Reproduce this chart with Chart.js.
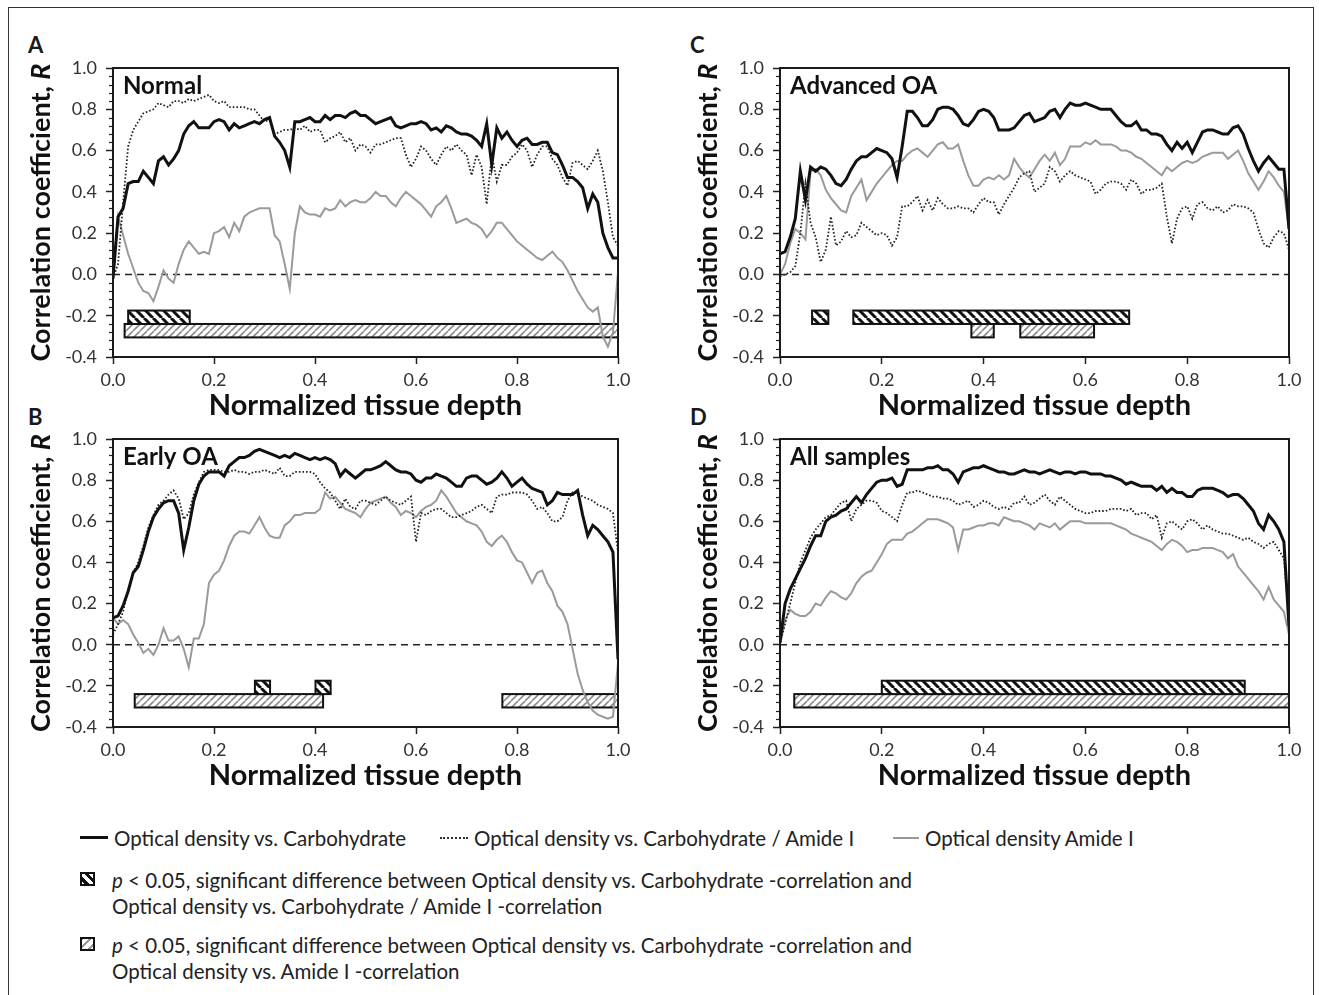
<!DOCTYPE html>
<html lang="en">
<head>
<meta charset="UTF-8">
<title>Correlation coefficient vs. normalized tissue depth</title>
<script src="https://cdn.jsdelivr.net/npm/chart.js"></script>
<style>
  html, body { margin: 0; padding: 0; background: #fff; }
  body { width: 1319px; height: 995px; position: relative; overflow: hidden; font-family: Lato, sans-serif; color: #1a1a1a; }
  .frame { position: absolute; left: 8px; top: 7px; width: 1306px; height: 1000px; border: 1.5px solid #333; border-bottom: none; box-sizing: border-box; }
  canvas { position: absolute; }
  .letter { position: absolute; font-weight: bold; font-size: 22px; line-height: 24px; }
  .lg { position: absolute; font-size: 20.5px; line-height: 24px; white-space: nowrap; color: #222; }
  .sw { position: absolute; }
  .hatch-black { border: 2px solid #111; box-sizing: border-box;
    background: repeating-linear-gradient(45deg, #fff 0 2px, #111 2px 5px, #fff 5px 7px); }
  .hatch-gray { border: 2px solid #111; box-sizing: border-box;
    background: repeating-linear-gradient(-45deg, #fff 0 2px, #999 2px 4px, #fff 4px 6px); }
</style>
</head>
<body>
<div class="frame"></div>

<div class="letter" style="left:28px;top:33px">A</div>
<div class="letter" style="left:28px;top:405px">B</div>
<div class="letter" style="left:690px;top:33px">C</div>
<div class="letter" style="left:690px;top:405px">D</div>

<canvas id="panelA" width="660" height="400" style="left:0;top:30px"></canvas>
<canvas id="panelB" width="660" height="400" style="left:0;top:400px"></canvas>
<canvas id="panelC" width="659" height="400" style="left:660px;top:30px"></canvas>
<canvas id="panelD" width="659" height="400" style="left:660px;top:400px"></canvas>

<!-- legend -->
<div class="sw" style="left:80px;top:836px;width:28px;height:3px;background:#111"></div>
<div class="lg" style="left:114px;top:826px">Optical density vs. Carbohydrate</div>
<div class="sw" style="left:440px;top:837px;width:28px;height:0;border-top:2px dotted #333"></div>
<div class="lg" style="left:474px;top:826px">Optical density vs. Carbohydrate / Amide I</div>
<div class="sw" style="left:893px;top:837px;width:26px;height:2px;background:#999"></div>
<div class="lg" style="left:925px;top:826px">Optical density Amide I</div>

<div class="sw hatch-black" style="left:80px;top:872px;width:15px;height:14px"></div>
<div class="lg" style="left:112px;top:868px"><i>p</i> &lt; 0.05, significant difference between Optical density vs. Carbohydrate -correlation and</div>
<div class="lg" style="left:112px;top:894px">Optical density vs. Carbohydrate / Amide I -correlation</div>

<div class="sw hatch-gray" style="left:80px;top:937px;width:15px;height:14px"></div>
<div class="lg" style="left:112px;top:933px"><i>p</i> &lt; 0.05, significant difference between Optical density vs. Carbohydrate -correlation and</div>
<div class="lg" style="left:112px;top:959px">Optical density vs. Amide I -correlation</div>

<script>
// normalized tissue depth (x)
const depth = [
  0.00, 0.01, 0.02, 0.03, 0.04, 0.05, 0.06, 0.07, 0.08, 0.09,
  0.10, 0.11, 0.12, 0.13, 0.14, 0.15, 0.16, 0.17, 0.18, 0.19,
  0.20, 0.21, 0.22, 0.23, 0.24, 0.25, 0.26, 0.27, 0.28, 0.29,
  0.30, 0.31, 0.32, 0.33, 0.34, 0.35, 0.36, 0.37, 0.38, 0.39,
  0.40, 0.41, 0.42, 0.43, 0.44, 0.45, 0.46, 0.47, 0.48, 0.49,
  0.50, 0.51, 0.52, 0.53, 0.54, 0.55, 0.56, 0.57, 0.58, 0.59,
  0.60, 0.61, 0.62, 0.63, 0.64, 0.65, 0.66, 0.67, 0.68, 0.69,
  0.70, 0.71, 0.72, 0.73, 0.74, 0.75, 0.76, 0.77, 0.78, 0.79,
  0.80, 0.81, 0.82, 0.83, 0.84, 0.85, 0.86, 0.87, 0.88, 0.89,
  0.90, 0.91, 0.92, 0.93, 0.94, 0.95, 0.96, 0.97, 0.98, 0.99,
  1.00
];

const yTickValues = [-0.4, -0.2, 0.0, 0.2, 0.4, 0.6, 0.8, 1.0];
const xTickValues = [0.0, 0.2, 0.4, 0.6, 0.8, 1.0];

const seriesNames = [
  'Optical density vs. Carbohydrate',
  'Optical density vs. Carbohydrate / Amide I',
  'Optical density Amide I'
];

// A - Normal
const normalCarb = [
  -0.02, 0.28, 0.32, 0.44, 0.45, 0.45, 0.50, 0.47, 0.44, 0.55,
  0.57, 0.53, 0.56, 0.60, 0.68, 0.72, 0.74, 0.71, 0.71, 0.71,
  0.74, 0.75, 0.74, 0.70, 0.73, 0.71, 0.72, 0.73, 0.74, 0.73,
  0.75, 0.76, 0.67, 0.64, 0.60, 0.52, 0.74, 0.74, 0.75, 0.76,
  0.74, 0.74, 0.77, 0.75, 0.77, 0.77, 0.76, 0.78, 0.79, 0.77,
  0.77, 0.75, 0.73, 0.74, 0.75, 0.76, 0.72, 0.71, 0.72, 0.73,
  0.73, 0.74, 0.73, 0.70, 0.71, 0.69, 0.72, 0.71, 0.69, 0.68,
  0.68, 0.67, 0.65, 0.62, 0.73, 0.53, 0.71, 0.66, 0.69, 0.65,
  0.62, 0.65, 0.66, 0.63, 0.63, 0.64, 0.64, 0.59, 0.58, 0.53,
  0.47, 0.47, 0.45, 0.42, 0.32, 0.39, 0.35, 0.20, 0.13, 0.08,
  0.08
];
const normalRatio = [
  -0.02, 0.05, 0.35, 0.62, 0.70, 0.74, 0.78, 0.79, 0.80, 0.83,
  0.82, 0.81, 0.84, 0.84, 0.83, 0.85, 0.84, 0.85, 0.86, 0.87,
  0.84, 0.83, 0.84, 0.81, 0.81, 0.81, 0.81, 0.80, 0.80, 0.77,
  0.74, 0.75, 0.68, 0.69, 0.70, 0.70, 0.71, 0.70, 0.72, 0.69,
  0.70, 0.70, 0.64, 0.66, 0.67, 0.69, 0.64, 0.66, 0.60, 0.63,
  0.62, 0.59, 0.63, 0.63, 0.64, 0.65, 0.66, 0.66, 0.58, 0.52,
  0.56, 0.62, 0.60, 0.56, 0.53, 0.58, 0.62, 0.60, 0.63, 0.60,
  0.58, 0.48, 0.58, 0.52, 0.34, 0.58, 0.45, 0.53, 0.53, 0.57,
  0.59, 0.63, 0.60, 0.52, 0.58, 0.62, 0.62, 0.56, 0.53, 0.47,
  0.43, 0.54, 0.55, 0.53, 0.51, 0.55, 0.60, 0.50, 0.35, 0.18,
  0.14
];
const normalAmide = [
  0.00, 0.28, 0.19, 0.10, 0.03, -0.04, -0.08, -0.09, -0.13, -0.06,
  0.02, -0.02, -0.04, 0.05, 0.12, 0.16, 0.13, 0.10, 0.11, 0.10,
  0.20, 0.21, 0.23, 0.18, 0.25, 0.21, 0.28, 0.30, 0.31, 0.32,
  0.32, 0.32, 0.19, 0.16, 0.05, -0.07, 0.20, 0.33, 0.30, 0.29,
  0.29, 0.28, 0.32, 0.31, 0.32, 0.36, 0.33, 0.35, 0.36, 0.35,
  0.35, 0.37, 0.40, 0.38, 0.38, 0.35, 0.33, 0.37, 0.40, 0.38,
  0.36, 0.34, 0.31, 0.28, 0.33, 0.35, 0.38, 0.32, 0.25, 0.26,
  0.27, 0.25, 0.24, 0.22, 0.18, 0.21, 0.25, 0.25, 0.22, 0.19,
  0.16, 0.14, 0.12, 0.10, 0.08, 0.07, 0.09, 0.11, 0.08, 0.06,
  0.02, -0.03, -0.08, -0.12, -0.16, -0.18, -0.16, -0.30, -0.35, -0.28,
  0.01
];

// B - Early OA
const earlyCarb = [
  0.13, 0.14, 0.19, 0.26, 0.35, 0.38, 0.46, 0.55, 0.62, 0.66,
  0.69, 0.70, 0.70, 0.64, 0.46, 0.57, 0.70, 0.78, 0.82, 0.84,
  0.84, 0.84, 0.82, 0.87, 0.89, 0.91, 0.91, 0.92, 0.94, 0.95,
  0.94, 0.93, 0.92, 0.91, 0.92, 0.91, 0.93, 0.92, 0.91, 0.90,
  0.91, 0.90, 0.91, 0.90, 0.88, 0.82, 0.85, 0.83, 0.81, 0.83,
  0.85, 0.85, 0.86, 0.87, 0.89, 0.87, 0.85, 0.84, 0.84, 0.83,
  0.80, 0.79, 0.81, 0.81, 0.83, 0.82, 0.81, 0.79, 0.77, 0.77,
  0.81, 0.82, 0.82, 0.80, 0.78, 0.79, 0.81, 0.84, 0.81, 0.77,
  0.79, 0.81, 0.78, 0.76, 0.75, 0.74, 0.68, 0.70, 0.74, 0.73,
  0.73, 0.73, 0.75, 0.63, 0.53, 0.58, 0.56, 0.53, 0.50, 0.45,
  -0.07
];
const earlyRatio = [
  0.05, 0.10, 0.16, 0.27, 0.35, 0.40, 0.48, 0.57, 0.63, 0.68,
  0.70, 0.73, 0.75, 0.71, 0.61, 0.64, 0.73, 0.79, 0.84, 0.85,
  0.85, 0.85, 0.84, 0.84, 0.85, 0.84, 0.84, 0.83, 0.84, 0.84,
  0.85, 0.84, 0.83, 0.86, 0.82, 0.82, 0.84, 0.84, 0.84, 0.84,
  0.83, 0.79, 0.76, 0.74, 0.70, 0.66, 0.71, 0.67, 0.66, 0.70,
  0.70, 0.69, 0.68, 0.70, 0.72, 0.70, 0.69, 0.68, 0.70, 0.72,
  0.50, 0.64, 0.63, 0.65, 0.66, 0.66, 0.64, 0.62, 0.62, 0.63,
  0.64, 0.65, 0.67, 0.68, 0.66, 0.64, 0.72, 0.73, 0.73, 0.74,
  0.74, 0.74, 0.73, 0.70, 0.66, 0.67, 0.64, 0.60, 0.60, 0.62,
  0.70, 0.74, 0.74, 0.72, 0.71, 0.70, 0.68, 0.67, 0.66, 0.64,
  0.45
];
const earlyAmide = [
  0.13, 0.10, 0.12, 0.10, 0.05, 0.01, -0.04, -0.02, -0.05, 0.00,
  0.08, 0.02, 0.02, 0.04, -0.02, -0.11, 0.03, 0.03, 0.10, 0.30,
  0.34, 0.36, 0.41, 0.48, 0.53, 0.55, 0.55, 0.54, 0.58, 0.62,
  0.57, 0.53, 0.52, 0.52, 0.58, 0.60, 0.63, 0.63, 0.64, 0.64,
  0.64, 0.66, 0.74, 0.71, 0.72, 0.69, 0.66, 0.65, 0.64, 0.62,
  0.66, 0.69, 0.70, 0.71, 0.72, 0.69, 0.67, 0.63, 0.65, 0.64,
  0.62, 0.65, 0.67, 0.68, 0.70, 0.75, 0.72, 0.68, 0.64, 0.62,
  0.60, 0.59, 0.58, 0.55, 0.50, 0.48, 0.51, 0.53, 0.50, 0.45,
  0.41, 0.40, 0.35, 0.30, 0.35, 0.36, 0.30, 0.26, 0.19, 0.16,
  0.10, -0.02, -0.14, -0.22, -0.28, -0.32, -0.34, -0.35, -0.36, -0.35,
  -0.09
];

// C - Advanced OA
const advancedCarb = [
  0.10, 0.11, 0.18, 0.27, 0.50, 0.36, 0.52, 0.50, 0.52, 0.51,
  0.48, 0.44, 0.43, 0.46, 0.51, 0.55, 0.57, 0.57, 0.59, 0.61,
  0.60, 0.59, 0.56, 0.47, 0.62, 0.79, 0.79, 0.76, 0.72, 0.72,
  0.75, 0.80, 0.81, 0.81, 0.80, 0.77, 0.73, 0.72, 0.75, 0.79,
  0.80, 0.79, 0.76, 0.70, 0.70, 0.70, 0.71, 0.74, 0.77, 0.78,
  0.74, 0.75, 0.76, 0.79, 0.80, 0.76, 0.80, 0.83, 0.82, 0.82,
  0.83, 0.82, 0.81, 0.80, 0.80, 0.80, 0.77, 0.74, 0.72, 0.72,
  0.74, 0.70, 0.70, 0.68, 0.68, 0.67, 0.63, 0.60, 0.64, 0.61,
  0.64, 0.59, 0.64, 0.69, 0.70, 0.70, 0.69, 0.68, 0.68, 0.71,
  0.72, 0.68, 0.61, 0.55, 0.50, 0.54, 0.57, 0.54, 0.51, 0.51,
  0.22
];
const advancedRatio = [
  -0.01, 0.00, 0.01, 0.04, 0.20, 0.44, 0.25, 0.18, 0.06, 0.12,
  0.28, 0.14, 0.16, 0.21, 0.18, 0.19, 0.25, 0.23, 0.21, 0.19,
  0.20, 0.19, 0.14, 0.18, 0.33, 0.33, 0.35, 0.38, 0.31, 0.36,
  0.31, 0.37, 0.34, 0.32, 0.32, 0.33, 0.32, 0.32, 0.30, 0.34,
  0.37, 0.35, 0.35, 0.29, 0.34, 0.38, 0.42, 0.47, 0.49, 0.50,
  0.40, 0.42, 0.44, 0.52, 0.50, 0.45, 0.48, 0.50, 0.48, 0.47,
  0.46, 0.45, 0.39, 0.41, 0.44, 0.45, 0.45, 0.44, 0.41, 0.46,
  0.44, 0.39, 0.41, 0.41, 0.42, 0.44, 0.28, 0.15, 0.27, 0.32,
  0.33, 0.27, 0.34, 0.35, 0.32, 0.31, 0.33, 0.30, 0.31, 0.34,
  0.33, 0.33, 0.32, 0.30, 0.22, 0.15, 0.13, 0.18, 0.21, 0.20,
  0.12
];
const advancedAmide = [
  0.00, 0.05, 0.15, 0.22, 0.20, 0.17, 0.50, 0.51, 0.48, 0.41,
  0.37, 0.34, 0.31, 0.30, 0.38, 0.42, 0.46, 0.36, 0.40, 0.44,
  0.47, 0.50, 0.53, 0.55, 0.55, 0.58, 0.60, 0.61, 0.59, 0.57,
  0.60, 0.63, 0.64, 0.61, 0.61, 0.63, 0.55, 0.48, 0.43, 0.43,
  0.46, 0.47, 0.46, 0.48, 0.46, 0.48, 0.56, 0.52, 0.49, 0.47,
  0.51, 0.55, 0.58, 0.55, 0.59, 0.53, 0.56, 0.62, 0.62, 0.62,
  0.64, 0.63, 0.65, 0.63, 0.63, 0.63, 0.62, 0.60, 0.60, 0.59,
  0.57, 0.56, 0.54, 0.52, 0.50, 0.48, 0.52, 0.50, 0.52, 0.54,
  0.55, 0.54, 0.55, 0.57, 0.58, 0.59, 0.59, 0.59, 0.56, 0.58,
  0.60, 0.55, 0.49, 0.45, 0.41, 0.45, 0.50, 0.47, 0.43, 0.40,
  0.22
];

// D - All samples
const allCarb = [
  0.01, 0.20, 0.27, 0.32, 0.37, 0.42, 0.48, 0.53, 0.53, 0.60,
  0.62, 0.63, 0.65, 0.66, 0.69, 0.72, 0.69, 0.73, 0.76, 0.79,
  0.80, 0.80, 0.81, 0.77, 0.78, 0.85, 0.85, 0.85, 0.85, 0.86,
  0.86, 0.87, 0.85, 0.85, 0.83, 0.79, 0.84, 0.85, 0.86, 0.86,
  0.87, 0.86, 0.85, 0.84, 0.84, 0.83, 0.83, 0.84, 0.85, 0.84,
  0.84, 0.83, 0.84, 0.85, 0.84, 0.83, 0.84, 0.84, 0.83, 0.84,
  0.84, 0.83, 0.83, 0.83, 0.82, 0.82, 0.81, 0.80, 0.78, 0.79,
  0.78, 0.77, 0.77, 0.77, 0.75, 0.77, 0.74, 0.76, 0.74, 0.74,
  0.72, 0.72, 0.75, 0.76, 0.76, 0.76, 0.75, 0.74, 0.72, 0.73,
  0.73, 0.71, 0.68, 0.65, 0.59, 0.56, 0.63, 0.60, 0.56, 0.50,
  0.09
];
const allRatio = [
  0.01, 0.10, 0.20, 0.30, 0.40, 0.46, 0.52, 0.56, 0.59, 0.62,
  0.63, 0.66, 0.69, 0.70, 0.60, 0.66, 0.68, 0.70, 0.70, 0.69,
  0.65, 0.64, 0.62, 0.60, 0.68, 0.74, 0.74, 0.75, 0.74, 0.73,
  0.72, 0.72, 0.71, 0.71, 0.70, 0.68, 0.69, 0.70, 0.67, 0.68,
  0.70, 0.69, 0.67, 0.66, 0.67, 0.66, 0.69, 0.69, 0.72, 0.68,
  0.69, 0.71, 0.73, 0.70, 0.68, 0.72, 0.70, 0.68, 0.66, 0.65,
  0.64, 0.64, 0.65, 0.65, 0.65, 0.66, 0.66, 0.66, 0.65, 0.66,
  0.63, 0.64, 0.64, 0.61, 0.63, 0.52, 0.59, 0.60, 0.58, 0.56,
  0.60, 0.61, 0.59, 0.56, 0.58, 0.56, 0.55, 0.54, 0.54, 0.53,
  0.52, 0.51, 0.52, 0.50, 0.49, 0.47, 0.49, 0.50, 0.46, 0.42,
  0.12
];
const allAmide = [
  0.00, 0.12, 0.17, 0.15, 0.14, 0.14, 0.16, 0.20, 0.19, 0.23,
  0.26, 0.25, 0.23, 0.22, 0.25, 0.30, 0.33, 0.35, 0.36, 0.40,
  0.44, 0.49, 0.51, 0.51, 0.51, 0.54, 0.55, 0.57, 0.59, 0.61,
  0.61, 0.61, 0.60, 0.59, 0.57, 0.46, 0.56, 0.56, 0.57, 0.58,
  0.58, 0.59, 0.59, 0.58, 0.62, 0.61, 0.60, 0.60, 0.59, 0.58,
  0.56, 0.59, 0.58, 0.57, 0.59, 0.56, 0.58, 0.60, 0.60, 0.60,
  0.59, 0.59, 0.59, 0.59, 0.59, 0.59, 0.58, 0.57, 0.56, 0.54,
  0.53, 0.52, 0.51, 0.50, 0.48, 0.46, 0.49, 0.51, 0.50, 0.48,
  0.45, 0.46, 0.46, 0.47, 0.47, 0.47, 0.46, 0.45, 0.42, 0.44,
  0.38, 0.35, 0.32, 0.29, 0.26, 0.22, 0.28, 0.22, 0.19, 0.16,
  0.05
];

// significance ranges (depth from, depth to)
const normalSigRatio = [[0.03, 0.152]];
const normalSigAmide = [[0.023, 1.0]];
const earlySigRatio = [[0.281, 0.311], [0.401, 0.431]];
const earlySigAmide = [[0.043, 0.416], [0.771, 1.0]];
const advancedSigRatio = [[0.063, 0.095], [0.144, 0.686]];
const advancedSigAmide = [[0.376, 0.42], [0.472, 0.617]];
const allSigRatio = [[0.2, 0.913]];
const allSigAmide = [[0.028, 1.0]];

const FONT = 'Lato';

function makeHatch(color, lineWidth, size, dir) {
  const c = document.createElement('canvas');
  c.width = size; c.height = size;
  const g = c.getContext('2d');
  g.fillStyle = '#fff';
  g.fillRect(0, 0, size, size);
  g.strokeStyle = color;
  g.lineWidth = lineWidth;
  g.beginPath();
  for (let k = -1; k <= 1; k++) {
    if (dir === 'back') {
      g.moveTo(k * size, 0); g.lineTo(k * size + size, size);
    } else {
      g.moveTo(k * size, size); g.lineTo(k * size + size, 0);
    }
  }
  g.stroke();
  return c;
}

function fmt(v) {
  if (Math.abs(v) < 1e-9) return '0.0';
  return v.toFixed(1);
}

function makePanel(id, carb, ratio, amide, sigRatio, sigAmide, label, layout) {
  const ctx = document.getElementById(id);
  const pts = arr => arr.map((v, i) => ({ x: depth[i], y: v }));

  const sigBars = {
    id: 'sigBars',
    beforeDatasetsDraw(chart) {
      const c = chart.ctx;
      const { x, y } = chart.scales;
      const blackPat = c.createPattern(makeHatch('#111', 3, 9, 'back'), 'repeat');
      const grayPat = c.createPattern(makeHatch('#8c8c8c', 1.6, 7, 'fwd'), 'repeat');
      const draw = (ranges, top, bottom, pat) => {
        ranges.forEach(([a, b]) => {
          const x0 = x.getPixelForValue(a), x1 = x.getPixelForValue(b);
          const y0 = y.getPixelForValue(top), y1 = y.getPixelForValue(bottom);
          c.save();
          c.fillStyle = pat;
          c.fillRect(x0, y0, x1 - x0, y1 - y0);
          c.lineWidth = 2;
          c.strokeStyle = '#111';
          c.strokeRect(x0, y0, x1 - x0, y1 - y0);
          c.restore();
        });
      };
      draw(sigAmide, -0.24, -0.305, grayPat);
      draw(sigRatio, -0.175, -0.24, blackPat);
    }
  };

  const decor = {
    id: 'decor',
    afterDraw(chart) {
      const c = chart.ctx;
      const { left, right, top, bottom } = chart.chartArea;
      const y = chart.scales.y;
      c.save();
      // minor y ticks
      c.strokeStyle = '#222';
      c.lineWidth = 1.2;
      for (let k = 0; k <= 35; k++) {
        if (k % 5 === 0) continue;
        const py = Math.round(y.getPixelForValue(-0.4 + k * 0.04)) + 0.5;
        c.beginPath(); c.moveTo(left - 4, py); c.lineTo(left, py); c.stroke();
      }
      // plot frame
      c.lineWidth = 2;
      c.strokeStyle = '#1a1a1a';
      c.strokeRect(left, top, right - left, bottom - top);
      // panel label
      c.fillStyle = '#111';
      c.font = 'bold 24px ' + FONT;
      c.textBaseline = 'middle';
      c.textAlign = 'left';
      c.fillText(label, left + 10, top + 18);
      // y title with italic R
      const t1 = 'Correlation coefficient, ';
      c.font = 'bold 27px ' + FONT;
      const w1 = c.measureText(t1).width;
      c.font = 'italic bold 27px ' + FONT;
      const w2 = c.measureText('R').width;
      c.translate(left - 72, (top + bottom) / 2);
      c.rotate(-Math.PI / 2);
      const start = -(w1 + w2) / 2;
      c.font = 'bold 27px ' + FONT;
      c.fillText(t1, start, 0);
      c.font = 'italic bold 27px ' + FONT;
      c.fillText('R', start + w1, 0);
      c.restore();
    }
  };

  return new Chart(ctx, {
    type: 'line',
    data: {
      datasets: [
        { label: seriesNames[0], data: pts(carb), borderColor: '#111', borderWidth: 3, pointRadius: 0, tension: 0 },
        { label: seriesNames[1], data: pts(ratio), borderColor: '#222', borderWidth: 1.8, borderDash: [1.6, 2], pointRadius: 0, tension: 0 },
        { label: seriesNames[2], data: pts(amide), borderColor: '#9a9a9a', borderWidth: 2, pointRadius: 0, tension: 0 },
        { label: 'zero', data: [{ x: 0, y: 0 }, { x: 1, y: 0 }], borderColor: '#222', borderWidth: 1.6, borderDash: [7, 5], pointRadius: 0 }
      ]
    },
    options: {
      responsive: false,
      animation: false,
      events: [],
      layout: { padding: layout.padding },
      plugins: { legend: { display: false }, tooltip: { enabled: false } },
      scales: {
        x: {
          type: 'linear', min: 0, max: 1,
          afterFit: s => { s.height = 73; },
          afterBuildTicks: s => { s.ticks = xTickValues.map(v => ({ value: v })); },
          ticks: { font: { family: FONT, size: 18 }, color: '#333', padding: 5, callback: fmt, maxRotation: 0 },
          grid: { drawOnChartArea: false, drawTicks: true, tickLength: 7, tickColor: '#222', tickWidth: 1.5 },
          border: { display: false },
          title: { display: true, text: 'Normalized tissue depth', color: '#111',
                   font: { family: FONT, size: 29, weight: 'bold' }, padding: { top: 0, bottom: 7 } }
        },
        y: {
          type: 'linear', min: -0.4, max: 1.0,
          afterFit: s => { s.width = layout.yWidth; },
          afterBuildTicks: s => { s.ticks = yTickValues.map(v => ({ value: v })); },
          ticks: { font: { family: FONT, size: 18 }, color: '#333', padding: 9, callback: fmt },
          grid: { drawOnChartArea: false, drawTicks: true, tickLength: 7, tickColor: '#222', tickWidth: 1.5 },
          border: { display: false }
        }
      }
    },
    plugins: [sigBars, decor]
  });
}

function build() {
  makePanel('panelA', normalCarb, normalRatio, normalAmide, normalSigRatio, normalSigAmide, 'Normal',
    { yWidth: 113, padding: { left: 0, top: 38, right: 42, bottom: 0 } });
  makePanel('panelB', earlyCarb, earlyRatio, earlyAmide, earlySigRatio, earlySigAmide, 'Early OA',
    { yWidth: 113, padding: { left: 0, top: 39, right: 42, bottom: 0 } });
  makePanel('panelC', advancedCarb, advancedRatio, advancedAmide, advancedSigRatio, advancedSigAmide, 'Advanced OA',
    { yWidth: 120, padding: { left: 0, top: 38, right: 30, bottom: 0 } });
  makePanel('panelD', allCarb, allRatio, allAmide, allSigRatio, allSigAmide, 'All samples',
    { yWidth: 120, padding: { left: 0, top: 39, right: 30, bottom: 0 } });
}

Promise.all([
  document.fonts.load('18px Lato'),
  document.fonts.load('bold 27px Lato'),
  document.fonts.load('italic bold 27px Lato')
]).then(build, build);
</script>
</body>
</html>
